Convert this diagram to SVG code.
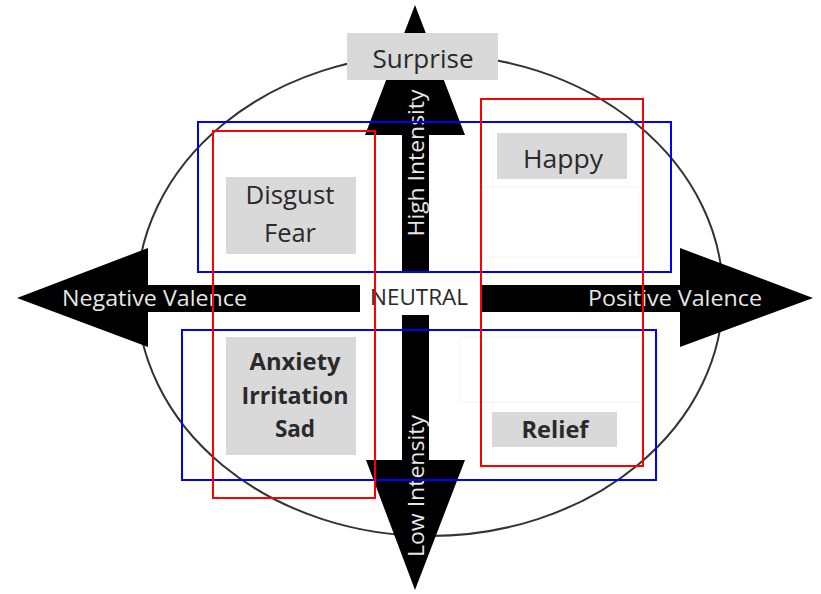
<svg xmlns="http://www.w3.org/2000/svg" width="821" height="594" viewBox="0 0 821 594">
<style>
.arrow{fill:#000}
.box{fill:#d9d9d9}
.faint{fill:none;stroke:#f3f3f3;stroke-width:1}
.lbl{font-family:"Open Sans","Noto Sans",sans-serif;fill:#2a2a2a;text-anchor:middle}
.bold{font-weight:bold}
.axis{font-family:"Open Sans","Noto Sans",sans-serif;fill:#e6e6e6;font-size:21px}
.blue{fill:none;stroke:#0000ff;stroke-width:2}
.red{fill:none;stroke:#ff0000;stroke-width:2}
</style>
<rect width="821" height="594" fill="#fff"/>
<ellipse id="circle" cx="430" cy="295" rx="293" ry="241" fill="none" stroke="#333" stroke-width="2"/>
<g id="connectors">
  <polygon id="arrow-up" class="arrow" points="415,5 465,135 429,135 429,273 402,273 402,135 365,135"/>
  <polygon id="arrow-down" class="arrow" points="402,315 429,315 429,460 465,460 415,590 366,460 402,460"/>
  <polygon id="arrow-left" class="arrow" points="17,298 148,248 148,285 360,285 360,312 148,312 148,347"/>
  <polygon id="arrow-right" class="arrow" points="482,285 680,285 680,248 813,298 680,347 680,312 482,312"/>
  <text class="axis" x="62" y="306" textLength="185" lengthAdjust="spacingAndGlyphs">Negative Valence</text>
  <text class="axis" x="588" y="306" textLength="174" lengthAdjust="spacingAndGlyphs">Positive Valence</text>
  <text class="axis" transform="translate(424,163) rotate(-90)" text-anchor="middle" textLength="147" lengthAdjust="spacingAndGlyphs">High Intensity</text>
  <text class="axis" transform="translate(424,486) rotate(-90)" text-anchor="middle" textLength="142" lengthAdjust="spacingAndGlyphs">Low Intensity</text>
</g>
<g id="neutral">
  <text class="lbl" x="419" y="305" font-size="21" textLength="98" lengthAdjust="spacingAndGlyphs">NEUTRAL</text>
</g>
<g id="surprise">
  <rect class="box" x="347" y="33" width="151" height="47"/>
  <text class="lbl" x="423" y="68" font-size="25" textLength="101" lengthAdjust="spacingAndGlyphs">Surprise</text>
</g>
<g id="happy">
  <rect class="faint" x="483" y="187" width="157" height="70"/>
  <rect class="box" x="497" y="133" width="130" height="46"/>
  <text class="lbl" x="563" y="168" font-size="25" textLength="80" lengthAdjust="spacingAndGlyphs">Happy</text>
</g>
<g id="disgust-fear">
  <rect class="box" x="226" y="177" width="130" height="77"/>
  <text class="lbl" x="290" y="204" font-size="25" textLength="89" lengthAdjust="spacingAndGlyphs">Disgust</text>
  <text class="lbl" x="290" y="242" font-size="25" textLength="52" lengthAdjust="spacingAndGlyphs">Fear</text>
</g>
<g id="anxiety">
  <rect class="box" x="226" y="337" width="130" height="118"/>
  <text class="lbl bold" x="295" y="370" font-size="22.5" textLength="91" lengthAdjust="spacingAndGlyphs">Anxiety</text>
  <text class="lbl bold" x="295" y="404" font-size="22.5" textLength="107" lengthAdjust="spacingAndGlyphs">Irritation</text>
  <text class="lbl bold" x="295" y="437" font-size="22.5">Sad</text>
</g>
<g id="relief">
  <rect class="faint" x="460" y="337" width="183" height="65"/>
  <rect class="box" x="492" y="412" width="125" height="35"/>
  <text class="lbl bold" x="555" y="438" font-size="22.5" textLength="67" lengthAdjust="spacingAndGlyphs">Relief</text>
</g>
<g id="quadrant-frames">
  <rect class="blue" x="198" y="122" width="473" height="150"/>
  <rect class="blue" x="182" y="330" width="474" height="150"/>
  <rect class="red" x="213" y="131" width="162" height="367"/>
  <rect class="red" x="481" y="99" width="162" height="367"/>
</g>
</svg>
